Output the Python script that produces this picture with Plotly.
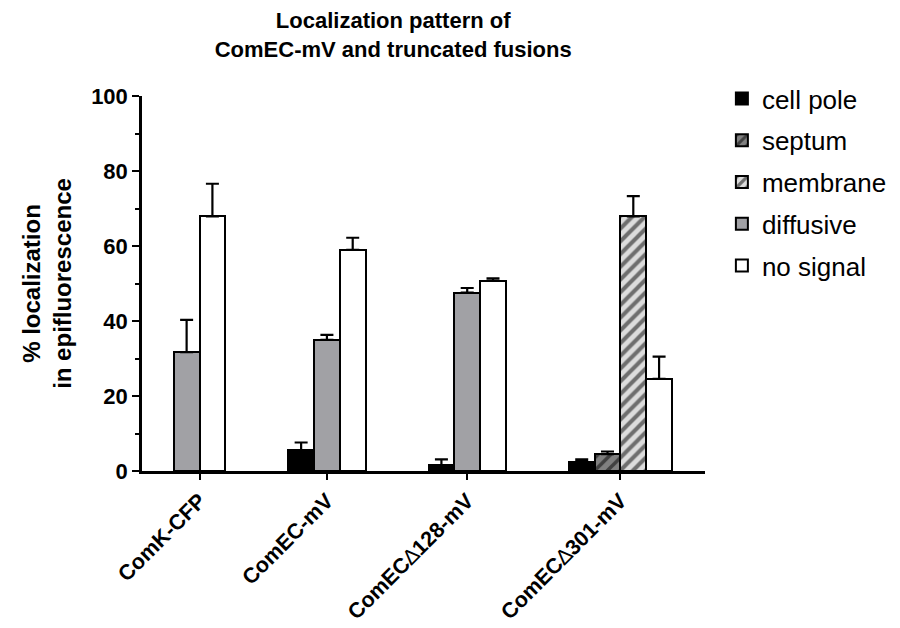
import plotly.graph_objects as go

# ---- data ----
categories = ["ComK-CFP", "ComEC-mV", "ComEC\u2206128-mV", "ComEC\u2206301-mV"]
tick_labels = ["<b>ComK-CFP</b>", "<b>ComEC-mV</b>",
               "<b>ComEC</b>\u2206<b>128-mV</b>", "<b>ComEC</b>\u2206<b>301-mV</b>"]
series_names = ["cell pole", "septum", "membrane", "diffusive", "no signal"]
# None = no bar drawn for that category
cell_pole = [None, 5.6, 1.6, 2.5]
septum = [None, None, None, 4.5]
membrane = [None, None, None, 67.9]
diffusive = [31.7, 35.0, 47.6, None]
no_signal = [67.9, 59.0, 50.8, 24.6]
cell_pole_err = [None, 2.0, 1.5, 0.6]
septum_err = [None, None, None, 0.7]
membrane_err = [None, None, None, 5.4]
diffusive_err = [8.6, 1.3, 1.2, None]
no_signal_err = [8.7, 3.2, 0.6, 5.9]

values = [cell_pole, septum, membrane, diffusive, no_signal]
errors = [cell_pole_err, septum_err, membrane_err, diffusive_err, no_signal_err]

# ---- styles ----
styles = [
    dict(color="#000000", pattern=None),
    dict(color="#808080", pattern=dict(shape="/", fgcolor="#000000", bgcolor="#808080", size=9, solidity=0.4)),
    dict(color="#dcdcdc", pattern=dict(shape="/", fgcolor="#000000", bgcolor="#dcdcdc", size=9, solidity=0.45)),
    dict(color="#a1a1a5", pattern=None),
    dict(color="#ffffff", pattern=None),
]

# ---- layout of bars: only present bars, packed, constant gap between groups ----
bar_w = 1.0
left_pad = 1.23
group_gap = 2.44
positions = [[None] * len(categories) for _ in series_names]
centers = []
cursor = left_pad
for ci in range(len(categories)):
    present = [si for si in range(len(series_names)) if values[si][ci] is not None]
    start = cursor
    for k, si in enumerate(present):
        positions[si][ci] = start + (k + 0.5) * bar_w
    end = start + len(present) * bar_w
    centers.append((start + end) / 2)
    cursor = end + group_gap

fig = go.Figure()
for si, name in enumerate(series_names):
    xs = [positions[si][ci] for ci in range(len(categories)) if values[si][ci] is not None]
    ys = [values[si][ci] for ci in range(len(categories)) if values[si][ci] is not None]
    es = [errors[si][ci] for ci in range(len(categories)) if values[si][ci] is not None]
    marker = dict(color=styles[si]["color"], line=dict(color="#000000", width=2))
    if styles[si]["pattern"] is not None:
        marker["pattern"] = styles[si]["pattern"]
    fig.add_trace(go.Bar(
        x=xs, y=ys, width=bar_w, name=name, marker=marker,
        error_y=dict(type="data", symmetric=False, array=es, arrayminus=[0] * len(es),
                     color="#000000", thickness=2.2, width=6.5),
        legendgroup=name,
    ))

fig.update_layout(
    width=900, height=628,
    paper_bgcolor="white", plot_bgcolor="white",
    margin=dict(l=134, r=203, t=88, b=165),
    font=dict(family="Liberation Sans, Arial, sans-serif", color="#000000"),
    title=dict(text="<b>Localization pattern of<br>ComEC-mV and truncated fusions</b>",
               x=0.428, xanchor="center", y=0.968, yanchor="top",
               font=dict(size=22)),
    showlegend=True,
    legend=dict(x=1.030, y=1.056, xanchor="left", yanchor="top",
                font=dict(size=26), tracegroupgap=5, itemwidth=30,
                bgcolor="rgba(0,0,0,0)"),
    bargap=0,
)
fig.update_xaxes(
    range=[0, 21.83], showgrid=False, zeroline=False, automargin=False,
    showline=True, linecolor="#000000", linewidth=2.5,
    tickmode="array", tickvals=centers, ticktext=tick_labels,
    ticks="outside", ticklen=6, tickwidth=2, tickcolor="#000000",
    tickangle=-45, tickfont=dict(size=21.5),
)
fig.update_yaxes(
    range=[0, 100], showgrid=False, zeroline=False, automargin=False,
    showline=True, linecolor="#000000", linewidth=2.5,
    tickmode="array", tickvals=[0, 20, 40, 60, 80, 100],
    ticktext=["<b>0</b>", "<b>20</b>", "<b>40</b>", "<b>60</b>", "<b>80</b>", "<b>100</b>"],
    ticks="outside", ticklen=7, tickwidth=2, tickcolor="#000000",
    tickfont=dict(size=22),
    minor=dict(tickvals=[10, 30, 50, 70, 90], ticks="outside", ticklen=4, tickwidth=2, tickcolor="#000000"),
    title=dict(text="<b>% localization<br>in epifluorescence</b>", font=dict(size=24), standoff=13),
)

fig.write_html("out.html")
